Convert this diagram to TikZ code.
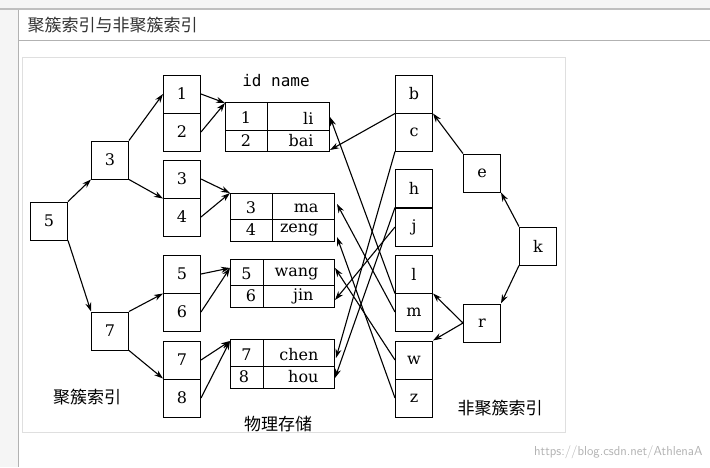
\documentclass[tikz,border=0pt]{standalone}
\usepackage{fontspec}
\setmainfont{DejaVu Serif}
\setmonofont{DejaVu Sans Mono}
\newfontfamily\cjk{Noto Sans CJK SC}
\usetikzlibrary{arrows.meta}
\begin{document}
\begin{tikzpicture}[x=1pt,y=-1pt,
 bx/.style={draw,line width=1pt,minimum width=37pt,minimum height=38pt,inner sep=0pt,font=\fontsize{16}{18}\selectfont},
 ar/.style={line width=1.1pt,-{Stealth[length=9pt,width=6pt]}},
 tl/.style={font=\fontsize{16}{18}\selectfont}]
\useasboundingbox (0,0) rectangle (710,467);
\fill[gray!8] (0,0) rectangle (710,467);
\fill[white] (18,10) rectangle (710,467);
\draw[gray!60] (18,10) -- (18,467);
\draw[gray!60] (18,40) -- (710,40);
\draw[gray!50,line width=2pt] (0,9) -- (710,9);
\node[anchor=west,font=\cjk\fontsize{17}{19}\selectfont,text=black!80] (title) at (24,25) {聚簇索引与非聚簇索引};
\draw[gray!25] (22,57) rectangle (565,432);
% left tree
\node[bx] (n5) at (49,221) {5};
\node[bx] (n3) at (110,160) {3};
\node[bx] (n7) at (110,331) {7};
\foreach \t/\y in {1/94,2/132,3/179,4/217,5/274,6/312,7/360,8/398}
  \node[bx] (c\t) at (182,\y) {\t};
% right tree
\foreach \t/\y in {b/94,c/132,h/188,j/227,l/274,m/312,w/360,z/398}
  \node[bx] (r\t) at (414,\y) {\t};
\node[bx] (ne) at (482,173) {e};
\node[bx] (nk) at (538,246) {k};
\node[bx] (nr) at (482,323) {r};
% tables
\node[font=\ttfamily\fontsize{16}{18}\selectfont] (hdr) at (276,81) {id name};
\newcommand{\tbl}[9]{%
 \draw[line width=1pt] (#1,#2) rectangle (#3,#4);
 \draw[line width=1pt] (#5,#2) -- (#5,#4);
 \draw[line width=1pt] (#1,#6) -- (#3,#6);
 \node[tl] (#7a) at ({(#1+#5)/2},{(#2+#6)/2+2}) {#8};
 \node[tl,anchor=east] (#7b) at (#3-12,{(#2+#6)/2+2}) {#9};}
\tbl{225}{102}{329}{151}{267}{130}{ta}{1}{li}
\node[tl] (ta2) at (246,141) {2}; \node[tl,anchor=east] (ta3) at (317,141) {bai};
\tbl{230}{193}{334}{241}{272}{219}{tb}{3}{ma}
\node[tl] (tb2) at (251,230) {4}; \node[tl,anchor=east] (tb3) at (322,230) {zeng};
\tbl{230}{259}{334}{307}{263}{285}{tc}{5}{wang}
\node[tl] (tc2) at (251,296) {6}; \node[tl,anchor=east] (tc3) at (317,296) {jin};
\tbl{230}{339}{334}{388}{263}{366}{td}{7}{chen}
\node[tl] (td2) at (244,377) {8}; \node[tl,anchor=east] (td3) at (322,377) {hou};
\coordinate (T1) at (225,103); \coordinate (T2) at (230,193);
\coordinate (T3) at (230,268); \coordinate (T4) at (230,341);
% left arrows
\draw[ar] (n5.north east) -- (n3.south west);
\draw[ar] (n5.south east) -- (n7.north west);
\draw[ar] (n3.north east) -- (c1.west);
\draw[ar] (n3.south east) -- (c3.south west);
\draw[ar] (n7.north east) -- (c5.south west);
\draw[ar] (n7.south east) -- (c8.north west);
\draw[ar] (c1.east) -- (T1); \draw[ar] (c2.east) -- (T1);
\draw[ar] (c3.east) -- (T2); \draw[ar] (c4.east) -- (T2);
\draw[ar] (c5.east) -- (T3); \draw[ar] (c6.east) -- (T3);
\draw[ar] (c7.east) -- (T4); \draw[ar] (c8.east) -- (T4);
% right arrows
\draw[ar] (nk.north west) -- (ne.south east);
\draw[ar] (nk.south west) -- (nr.north east);
\draw[ar] (ne.north west) -- (rb.south east);
\draw[ar] (nr.west) -- (rl.south east);
\draw[ar] (nr.west) -- (rw.north east);
% crossings
\coordinate (Pli) at (330,117); \coordinate (Pbai) at (330,150);
\coordinate (Pma) at (337,204); \coordinate (Pzeng) at (337,237);
\coordinate (Pwang) at (335,268); \coordinate (Pjin) at (335,300);
\coordinate (Pchen) at (336,358); \coordinate (Phou) at (335,378);
\draw[ar] (rb.south west) -- (Pbai);
\draw[ar] (rc.south west) -- (Pchen);
\draw[ar] (rh.south west) -- (Phou);
\draw[ar] (rj.west) -- (Pjin);
\draw[ar] (rl.south west) -- (Pli);
\draw[ar] (rm.west) -- (Pma);
\draw[ar] (rw.west) -- (Pwang);
\draw[ar] (rz.west) -- (Pzeng);
% labels
\node[font=\cjk\fontsize{17}{19}\selectfont] (L1) at (87,397) {聚簇索引};
\node[font=\cjk\fontsize{17}{19}\selectfont] (L2) at (278,424) {物理存储};
\node[font=\cjk\fontsize{17}{19}\selectfont] (L3) at (500,408) {非聚簇索引};
\node[font=\sffamily\fontsize{13}{15}\selectfont,text=gray!60,anchor=east] (wm) at (706,452) {https://blog.csdn.net/AthlenaA};
\end{tikzpicture}
\end{document}
